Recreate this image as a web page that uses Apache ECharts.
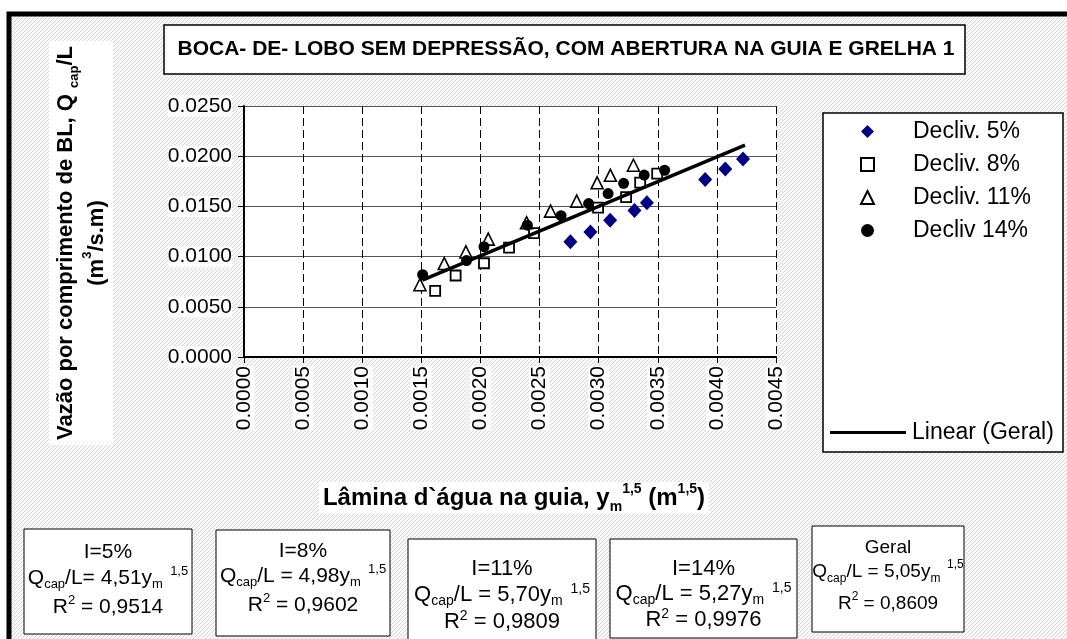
<!DOCTYPE html>
<html><head><meta charset="utf-8">
<script src="https://cdn.jsdelivr.net/npm/echarts@6/dist/echarts.min.js"></script>
<style>html,body{margin:0;padding:0;background:#fff}#c{width:1067px;height:639px}</style>
</head><body><div id="c"></div>
<script>
// ---- data ----
const seriesNames = ['Decliv. 5%', 'Decliv. 8%', 'Decliv. 11%', 'Decliv 14%'];
const decliv5 = [[0.002761,0.01147],[0.002930,0.01244],[0.003097,0.01363],[0.003303,0.01460],[0.003408,0.01536],[0.003901,0.01769],[0.004071,0.01872],[0.004221,0.01972]];
const decliv8 = [[0.001617,0.00658],[0.001790,0.00812],[0.002030,0.00934],[0.002242,0.01089],[0.002453,0.01234],[0.002995,0.01488],[0.003232,0.01593],[0.003351,0.01737],[0.003495,0.01827]];
const decliv11 = [[0.001488,0.00720],[0.001694,0.00931],[0.001877,0.01047],[0.002066,0.01174],[0.002390,0.01338],[0.002593,0.01453],[0.002814,0.01553],[0.002987,0.01735],[0.003099,0.01810],[0.003294,0.01910]];
const decliv14 = [[0.001511,0.00820],[0.001882,0.00961],[0.002030,0.01099],[0.002397,0.01313],[0.002682,0.01408],[0.002915,0.01528],[0.003080,0.01628],[0.003211,0.01730],[0.003385,0.01812],[0.003558,0.01860]];
const linearGeral = [[0.001509,0.00765],[0.004238,0.02111]];
const xTickLabels = ['0.0000','0.0005','0.0010','0.0015','0.0020','0.0025','0.0030','0.0035','0.0040','0.0045'];
const yTickLabels = ['0.0000','0.0050','0.0100','0.0150','0.0200','0.0250'];
const boxTitles = ['I=5%', 'I=8%', 'I=11%', 'I=14%', 'Geral'];
const boxCoefs = ['= 4,51', ' = 4,98', ' = 5,70', ' = 5,27', ' = 5,05'];
const boxR2 = ['0,9514', '0,9602', '0,9809', '0,9976', '0,8609'];
const titleText = 'BOCA- DE- LOBO SEM DEPRESSÃO, COM ABERTURA NA GUIA E GRELHA 1';

// ---- background pattern ----
const pc = document.createElement('canvas'); pc.width = 4; pc.height = 4;
const px = pc.getContext('2d');
px.fillStyle = '#f8f8f8'; px.fillRect(0,0,4,4);
px.fillStyle = '#d9d9d9';
for (let i = 0; i < 4; i++) px.fillRect(i, 3 - i, 1, 1);

const FONT = 'Arial, "Liberation Sans", sans-serif';
const chart = echarts.init(document.getElementById('c'));

const boxGeom = [
  {x: 24, y: 529, w: 168, h: 105, fs: 21, rows: [552, 578, 607]},
  {x: 216, y: 530, w: 174, h: 106, fs: 21, rows: [551, 576, 605]},
  {x: 408, y: 539, w: 188, h: 104, fs: 22, rows: [569, 595, 622]},
  {x: 610, y: 539, w: 187, h: 99, fs: 22, rows: [569, 594, 620]},
  {x: 812, y: 526, w: 152, h: 106, fs: 19, rows: [548, 572, 604]}
];
function boxRich(fs) {
  const ss = Math.round(fs * 0.62);
  return {
    n: {fontSize: fs, fontFamily: FONT, color: '#000', lineHeight: 26, verticalAlign: 'middle'},
    sub: {fontSize: ss, fontFamily: FONT, color: '#000', lineHeight: 26, verticalAlign: 'bottom'},
    sup: {fontSize: ss, fontFamily: FONT, color: '#000', lineHeight: 26, verticalAlign: 'top'}
  };
}
const boxEls = [];
boxTitles.forEach((t, i) => {
  const g = boxGeom[i];
  const cx = g.x + g.w / 2;
  const rich = boxRich(g.fs);
  boxEls.push({type: 'rect', shape: {x: g.x, y: g.y, width: g.w, height: g.h}, style: {fill: '#fff', stroke: '#000', lineWidth: 1}, z: 10});
  boxEls.push({type: 'text', x: cx, y: g.rows[0], z: 11, style: {text: t, font: g.fs + 'px ' + FONT, fill: '#000', textAlign: 'center', textVerticalAlign: 'middle'}});
  boxEls.push({type: 'text', x: cx, y: g.rows[1], z: 11, style: {text: '{n|Q}{sub|cap}{n|/L' + boxCoefs[i] + 'y}{sub|m}{sup|  1,5}', rich: rich, textAlign: 'center', textVerticalAlign: 'middle'}});
  boxEls.push({type: 'text', x: cx, y: g.rows[2], z: 11, style: {text: '{n|R}{sup|2}{n| = ' + boxR2[i] + '}', rich: rich, textAlign: 'center', textVerticalAlign: 'middle'}});
});

function bigRich(fs, ss, lh) {
  return {
    n: {fontSize: fs, fontWeight: 'bold', fontFamily: FONT, color: '#000', lineHeight: lh, verticalAlign: 'middle'},
    sub: {fontSize: ss, fontWeight: 'bold', fontFamily: FONT, color: '#000', lineHeight: lh, verticalAlign: 'bottom'},
    sup: {fontSize: ss, fontWeight: 'bold', fontFamily: FONT, color: '#000', lineHeight: lh, verticalAlign: 'top'}
  };
}

const option = {
  animation: false,
  backgroundColor: 'transparent',
  textStyle: {fontFamily: FONT},
  graphic: [
    {type: 'rect', shape: {x: 9, y: 14, width: 1070, height: 640}, style: {fill: {image: pc, repeat: 'repeat'}, stroke: '#000', lineWidth: 5}, z: -100},
    {type: 'rect', shape: {x: 164, y: 25, width: 801, height: 49}, style: {fill: '#fff', stroke: '#000', lineWidth: 1.5}, z: 10},
    {type: 'text', x: 566, y: 49, z: 11, style: {text: titleText, font: 'bold 21px ' + FONT, fill: '#000', textAlign: 'center', textVerticalAlign: 'middle'}},
    {type: 'rect', shape: {x: 823, y: 113, width: 240, height: 339}, style: {fill: '#fff', stroke: '#000', lineWidth: 1.5}, z: 1},
    {type: 'text', x: 81, y: 243, rotation: Math.PI / 2, z: 11, style: {
      text: '{n|Vazão por comprimento de BL, Q }{sub|cap}{n|/L}\n{n|(m}{sup|3}{n|/s.m)}',
      rich: bigRich(22, 13, 31), textAlign: 'center', textVerticalAlign: 'middle', backgroundColor: '#fff', padding: [1, 5, 1, 5]}},
    {type: 'text', x: 514, y: 498, z: 11, style: {
      text: '{n|Lâmina d`água na guia, y}{sub|m}{sup|1,5}{n| (m}{sup|1,5}{n|)}',
      rich: bigRich(24, 14, 32), textAlign: 'center', textVerticalAlign: 'middle', backgroundColor: '#fff', padding: [0, 4, 0, 4]}}
  ].concat(boxEls),
  legend: [
    {
      orient: 'vertical', left: 860, top: 115, padding: 0, itemGap: 0,
      itemWidth: 13, itemHeight: 13,
      data: seriesNames,
      textStyle: {fontSize: 23, color: '#000', lineHeight: 33, padding: [0, 0, 0, 34]},
      z: 20
    },
    {
      orient: 'vertical', left: 830, top: 416, padding: 0,
      itemWidth: 76, itemHeight: 3,
      data: [{name: 'Linear (Geral)', icon: 'rect'}],
      itemStyle: {color: '#000', borderWidth: 0},
      textStyle: {fontSize: 23, color: '#000', lineHeight: 33, padding: [0, 0, 0, 1]},
      z: 20
    }
  ],
  grid: {left: 244, top: 106, width: 532, height: 251, show: true, backgroundColor: '#fff', borderWidth: 0},
  xAxis: {
    type: 'value', min: 0, max: 0.0045, interval: 0.0005,
    axisLine: {lineStyle: {color: '#000', width: 2}},
    axisTick: {show: true, length: 6, lineStyle: {color: '#000', width: 1}},
    axisLabel: {rotate: 90, fontSize: 21, color: '#000', margin: 9, backgroundColor: '#fff',
      formatter: (v) => xTickLabels[Math.round(v / 0.0005)]},
    splitLine: {show: true, lineStyle: {color: '#000', type: [8, 4], width: 1}}
  },
  yAxis: {
    type: 'value', min: 0, max: 0.025, interval: 0.005,
    axisLine: {show: true, lineStyle: {color: '#000', width: 2}},
    axisTick: {show: true, length: 6, lineStyle: {color: '#000', width: 1}},
    axisLabel: {fontSize: 21, color: '#000', margin: 12, backgroundColor: '#fff',
      formatter: (v) => yTickLabels[Math.round(v / 0.005)]},
    splitLine: {show: true, lineStyle: {color: '#555', width: 1.2}}
  },
  series: [
    {name: seriesNames[0], type: 'scatter', data: decliv5, symbol: 'diamond', symbolSize: [14, 15], itemStyle: {color: '#000080', opacity: 1}},
    {name: seriesNames[1], type: 'scatter', data: decliv8, symbol: 'rect', symbolSize: 10, itemStyle: {color: '#fff', borderColor: '#000', borderWidth: 1.8, opacity: 1}},
    {name: seriesNames[2], type: 'scatter', data: decliv11, symbol: 'triangle', symbolSize: 12, itemStyle: {color: '#fff', borderColor: '#000', borderWidth: 1.6, opacity: 1}},
    {name: seriesNames[3], type: 'scatter', data: decliv14, symbol: 'circle', symbolSize: 11, itemStyle: {color: '#000', opacity: 1}},
    {name: 'Linear (Geral)', type: 'line', data: linearGeral, symbol: 'none', showSymbol: false, lineStyle: {color: '#000', width: 3.5}, itemStyle: {color: '#000'}, z: 5}
  ]
};
chart.setOption(option);
</script></body></html>
